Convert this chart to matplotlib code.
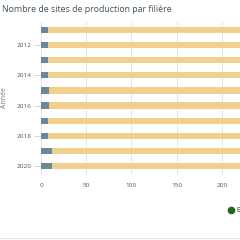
import matplotlib.pyplot as plt
from matplotlib.lines import Line2D

plt.rcParams['font.family'] = ['Open Sans', 'DejaVu Sans']

years = [2011, 2012, 2013, 2014, 2015, 2016, 2017, 2018, 2019, 2020]
grey_sites = [8, 8, 8, 8, 9, 9, 8, 8, 12, 12]
yellow_sites = [260, 260, 260, 260, 260, 260, 260, 260, 260, 260]
year_labels = ['', '2012', '', '2014', '', '2016', '', '2018', '', '2020']
x_ticks = [0, 50, 100, 150, 200]
title = 'Nombre de sites de production par filière'

fig = plt.figure(figsize=(2.4, 2.4), dpi=100)
ax = fig.add_axes([41 / 240, 1 - 173.6 / 240, 1 - 41 / 240, 151.2 / 240])

pos = list(range(len(years)))
ax.barh(pos, grey_sites, height=0.42, color='#6b8896', zorder=3)
ax.barh(pos, yellow_sites, left=grey_sites, height=0.42, color='#f1d08d', zorder=3)

ax.set_ylim(len(years) - 0.5, -0.5)
ax.set_xlim(0, 220)
ax.set_xticks(x_ticks)
ax.set_xticklabels([str(t) for t in x_ticks])
ax.set_yticks(pos)
ax.set_yticklabels(year_labels)
for t, lab in zip(ax.yaxis.get_major_ticks(), year_labels):
    if not lab:
        t.tick1line.set_visible(False)

ax.tick_params(axis='x', length=0, labelsize=4.6, colors='#555555', pad=7)
ax.tick_params(axis='y', length=5, width=0.6, color='#cccccc', labelsize=4.6,
               labelcolor='#555555', pad=2)
ax.grid(axis='x', color='#e4e4e4', linewidth=0.7, zorder=0)
for s in ax.spines.values():
    s.set_visible(False)
ax.set_ylabel('Année', fontsize=5, color='#777777')
ax.yaxis.set_label_coords(-0.165, 0.5)

fig.text(2 / 240, 1 - 10 / 240, title, fontsize=6.3, color='#3f5260', va='center', ha='left')

fig.add_artist(Line2D([231 / 240], [1 - 210 / 240], marker='o', markersize=4.5,
                      color='#1e6b1e', linestyle='none'))
fig.text(236 / 240, 1 - 210 / 240, 'Biomasse', fontsize=5, color='#333333', va='center')
fig.add_artist(Line2D([0, 1], [1 - 238 / 240] * 2, color='#e6e6e6', linewidth=0.8))

fig.savefig('out.png', dpi=100)
